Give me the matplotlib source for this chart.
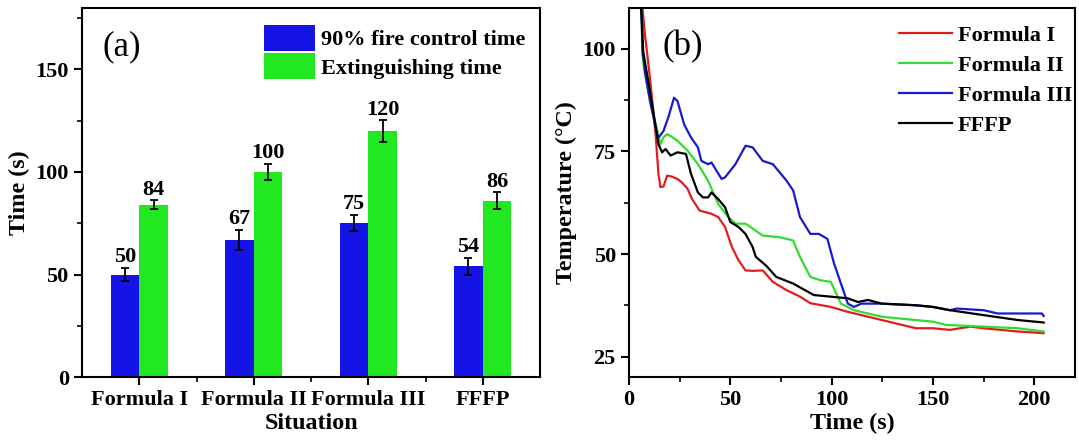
import matplotlib
matplotlib.use("Agg")
import matplotlib.pyplot as plt
import numpy as np
from matplotlib.ticker import MultipleLocator

plt.rcParams['font.family'] = ['Liberation Serif', 'DejaVu Serif']
plt.rcParams['font.weight'] = 'bold'

# ---- Panel (a) data ----
categories = ["Formula I", "Formula II", "Formula III", "FFFP"]
control_time = [50, 67, 75, 54]
control_err = [3.3, 4.9, 4.0, 4.1]
extinguish_time = [84, 100, 120, 86]
extinguish_err = [2.1, 4.1, 5.2, 4.1]

# ---- Panel (b) data ----
t_f1 = [6.5, 7.9, 9.8, 11.5, 13.1, 14.5, 15.5, 17, 18.8, 21, 23.9, 26, 28.9, 31, 34.8, 37, 40.7, 44, 47.4, 50.8,
        54, 57.5, 61, 66, 71, 77.7, 84.4, 89.5, 99.6, 108, 124.8, 141.6, 150, 158.4, 168.5, 175, 192, 204.7]
T_f1 = [110.5, 103.3, 95.2, 87.2, 79.2, 69.5, 66.3, 66.5, 69.1, 68.9, 68.3, 67.5, 65.9, 63.5, 60.6, 60.3, 59.8, 59,
        56.6, 51.7, 48.5, 46, 45.9, 46, 43.2, 41.2, 39.6, 38, 37.1, 35.9, 33.9, 31.9, 31.9, 31.5, 32.3, 31.9, 31.1, 30.7]

t_f2 = [5.7, 6.2, 6.5, 7.4, 10.3, 14.4, 15.5, 17, 18.8, 21, 23.9, 28.9, 34, 39, 44, 49, 52.5, 57.5, 66, 74.3, 81,
        84.4, 89.5, 94.5, 99.6, 104.6, 111, 124.8, 141.6, 150, 156.7, 175, 192, 204.7]
T_f2 = [111, 108, 99.3, 95.2, 87.2, 79.2, 76.8, 78.5, 79.2, 78.6, 77.6, 75.2, 71.9, 67.9, 62.2, 59, 57.4, 57.4, 54.5,
        54.1, 53.3, 49.3, 44.4, 43.6, 43.2, 37.9, 36.3, 34.7, 33.9, 33.5, 32.7, 32.3, 31.9, 31.1]

t_f3 = [5.7, 6.2, 6.7, 8, 10.4, 13.8, 14.6, 17, 19.5, 22.2, 23.9, 27.2, 30.6, 34, 35.7, 39, 40.7, 43.2, 45.7, 47.4,
        52.5, 57.5, 61, 66, 71, 77.7, 81, 84.4, 89.5, 93.7, 97.9, 101.2, 104.6, 108, 111, 114.7, 124.8, 141.6, 150,
        158.4, 161.8, 175, 182, 192, 203.8, 204.7]
T_f3 = [111, 108, 99.3, 94, 87.3, 79.2, 78.4, 80, 83.5, 88.1, 87.3, 81.6, 78.4, 76, 72.7, 71.9, 72.3, 70.3, 68.3,
        68.7, 71.9, 76.4, 76, 72.7, 71.9, 67.9, 65.5, 59, 54.9, 54.9, 53.7, 47.7, 42.8, 37.9, 37.1, 37.9, 37.9, 37.5,
        37.1, 36.3, 36.7, 36.3, 35.5, 35.5, 35.5, 34.9]

t_ff = [5.9, 7.0, 9.8, 12.5, 14.5, 16.3, 18, 20.5, 23.9, 28.1, 30.6, 34, 36.5, 39, 40.7, 44, 47.4, 50, 54, 57.5, 61,
        62.6, 67.6, 72.7, 81, 91.2, 99.6, 108, 113, 118, 124.8, 141.6, 150, 158.4, 175, 192, 204.7]
T_ff = [111, 99.3, 91.2, 83.1, 76.8, 74.8, 75.6, 74, 74.8, 74.4, 69.5, 65, 63.8, 63.8, 65, 63.4, 61.4, 57.8, 56.6,
        54.9, 51.7, 49.3, 47.2, 44.4, 42.8, 40, 39.6, 39.2, 38.3, 38.8, 37.9, 37.5, 37.1, 36.3, 35.1, 33.9, 33.3]

series_labels = ["Formula I", "Formula II", "Formula III", "FFFP"]
series_colors = ["#e01e1e", "#30dd30", "#1a1acc", "#000000"]

fig = plt.figure(figsize=(10.79, 4.41), dpi=100)
axA = fig.add_axes([0.076, 0.145, 0.4245, 0.837])
axB = fig.add_axes([0.583, 0.145, 0.413, 0.837])

tick_fs = 16
label_fs = 17.3


def style_axes(ax):
    for s in ax.spines.values():
        s.set_linewidth(1.5)
    ax.tick_params(which='major', direction='out', length=6, width=1.5, labelsize=tick_fs,
                   top=False, right=False)
    ax.tick_params(which='minor', direction='out', length=3.5, width=1.2, top=False, right=False)
    for lab in ax.get_xticklabels() + ax.get_yticklabels():
        lab.set_fontweight('bold')


# ---- Panel (a) ----
x = np.arange(len(categories))
w = 0.25
ekw = dict(ecolor='black', elinewidth=1.3, capthick=1.3)
axA.bar(x - w / 2, control_time, w, color="#1414e6", yerr=control_err, capsize=2.8,
        error_kw=ekw, label="90% fire control time")
axA.bar(x + w / 2, extinguish_time, w, color="#22e822", yerr=extinguish_err, capsize=2.8,
        error_kw=ekw, label="Extinguishing time")
for xi, v, e in zip(x - w / 2, control_time, control_err):
    axA.annotate(f"{v}", (xi, v + e), xytext=(0, 4), textcoords='offset points', ha='center',
                 va='baseline', fontsize=16, fontweight='bold')
for xi, v, e in zip(x + w / 2, extinguish_time, extinguish_err):
    axA.annotate(f"{v}", (xi, v + e), xytext=(0, 4), textcoords='offset points', ha='center',
                 va='baseline', fontsize=16, fontweight='bold')
axA.set_xlim(-0.5, 3.5)
axA.set_ylim(0, 180)
axA.set_xticks(x)
axA.set_xticklabels(categories)
axA.set_xticks([0.5, 1.5, 2.5], minor=True)
axA.yaxis.set_major_locator(MultipleLocator(50))
axA.yaxis.set_minor_locator(MultipleLocator(25))
axA.set_xlabel("Situation", fontsize=label_fs, fontweight='bold', labelpad=2)
axA.set_ylabel("Time (s)", fontsize=label_fs, fontweight='bold', labelpad=4)
style_axes(axA)
axA.text(0.044, 0.894, "(a)", transform=axA.transAxes, fontsize=25, fontweight='normal',
         va='center', ha='left')
axA.legend(loc='upper left', bbox_to_anchor=(0.397, 0.954), frameon=False,
           prop=dict(weight='bold', size=16), handlelength=2.3, handleheight=1.45,
           handletextpad=0.25, labelspacing=0.08, borderpad=0, borderaxespad=0)

# ---- Panel (b) ----
for tt, TT, lab, col in zip([t_f1, t_f2, t_f3, t_ff], [T_f1, T_f2, T_f3, T_ff], series_labels, series_colors):
    axB.plot(tt, TT, color=col, lw=1.6, label=lab)
axB.set_xlim(0, 220)
axB.set_ylim(20, 110)
axB.xaxis.set_major_locator(MultipleLocator(50))
axB.xaxis.set_minor_locator(MultipleLocator(25))
axB.yaxis.set_major_locator(MultipleLocator(25))
axB.yaxis.set_minor_locator(MultipleLocator(12.5))
axB.set_xlabel("Time (s)", fontsize=label_fs, fontweight='bold', labelpad=2)
axB.set_ylabel("Temperature (°C)", fontsize=label_fs, fontweight='bold', labelpad=4)
style_axes(axB)
axB.text(0.074, 0.894, "(b)", transform=axB.transAxes, fontsize=25, fontweight='normal',
         va='center', ha='left')
axB.legend(loc='upper left', bbox_to_anchor=(0.605, 0.953), frameon=False,
           prop=dict(weight='bold', size=16), handlelength=2.4,
           handletextpad=0.25, labelspacing=0.42, borderpad=0, borderaxespad=0)

fig.savefig("out.png", dpi=100)
